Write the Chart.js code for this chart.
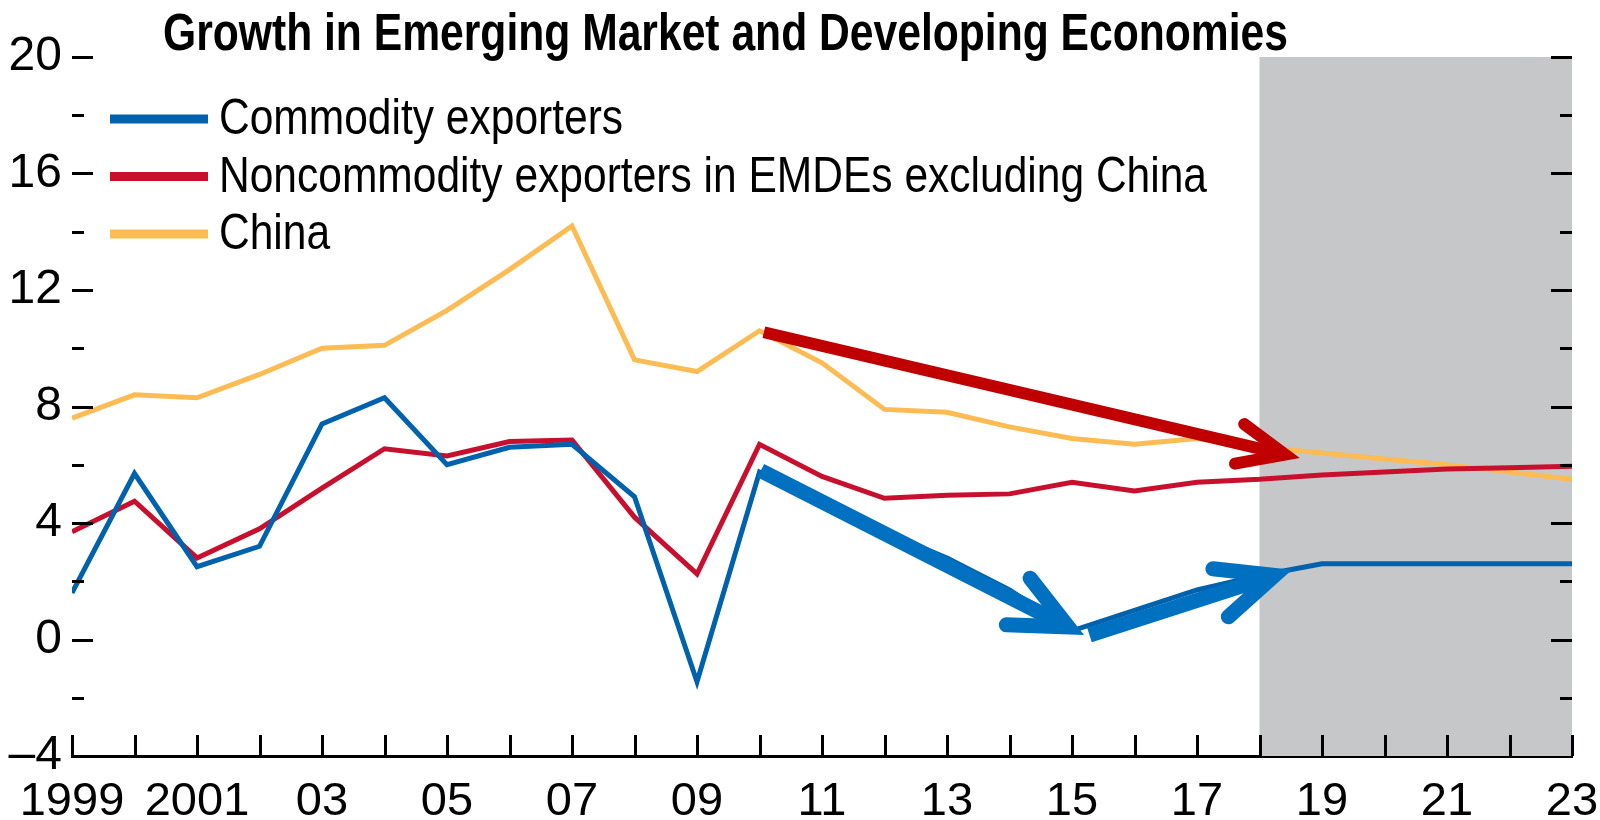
<!DOCTYPE html>
<html lang="en">
<head>
<meta charset="UTF-8">
<title>Growth in Emerging Market and Developing Economies</title>
<script src="https://cdn.jsdelivr.net/npm/chart.js"></script>
<style>
  html, body { margin: 0; padding: 0; background: #fff; }
  canvas { display: block; }
</style>
</head>
<body>
<canvas id="myChart" width="1600" height="820"></canvas>
<script>
// ---- data ----
const chartTitle = 'Growth in Emerging Market and Developing Economies';
const years = [1999, 2000, 2001, 2002, 2003, 2004, 2005, 2006, 2007, 2008, 2009, 2010, 2011,
               2012, 2013, 2014, 2015, 2016, 2017, 2018, 2019, 2020, 2021, 2022, 2023];
const seriesNames = ['Commodity exporters', 'Noncommodity exporters in EMDEs excluding China', 'China'];
const commodity    = [1.6, 5.7, 2.5, 3.2, 7.4, 8.3, 6.0, 6.6, 6.7, 4.9, -1.45, 5.75, 4.6,
                      3.7, 2.8, 1.7, 0.3, 1.0, 1.7, 2.2, 2.6, 2.6, 2.6, 2.6, 2.6];
const noncommodity = [3.7, 4.75, 2.8, 3.8, 5.2, 6.55, 6.3, 6.8, 6.85, 4.2, 2.25, 6.7, 5.6,
                      4.85, 4.95, 5.0, 5.4, 5.1, 5.4, 5.5, 5.65, 5.75, 5.85, 5.9, 5.95];
const china        = [7.6, 8.4, 8.3, 9.1, 10.0, 10.1, 11.3, 12.7, 14.2, 9.6, 9.2, 10.6, 9.5,
                      7.9, 7.8, 7.3, 6.9, 6.7, 6.9, 6.6, 6.4, 6.2, 6.0, 5.75, 5.5];
const forecastFrom = 2018;
// hand-drawn annotation arrows, [year, value]
const arrowFrom = [[2010.07, 10.55], [2010.02, 5.8],  [2015.28, 0.15]];
const arrowTo   = [[2018.41, 6.35],  [2014.94, 0.43], [2018.24, 2.2]];

const FONT = '"Liberation Sans Narrow", "Arial Narrow", "Liberation Sans", Arial, sans-serif';
Chart.defaults.font.family = FONT;
Chart.defaults.color = '#000';

const arrowStyle = [
  {color: '#c00000', width: 12, head: 51, angle: 23.5},
  {color: '#0070c0', width: 15, head: 62, angle: 25},
  {color: '#0070c0', width: 15, head: 62, angle: 24}
];

function drawArrow(ctx, x0, y0, x1, y1, s) {
  const ang = Math.atan2(y1 - y0, x1 - x0);
  const a = s.angle * Math.PI / 180;
  ctx.strokeStyle = s.color;
  ctx.lineWidth = s.width;
  ctx.lineCap = 'butt';
  ctx.beginPath();
  ctx.moveTo(x0, y0);
  ctx.lineTo(x1, y1);
  ctx.stroke();
  ctx.lineCap = 'round';
  ctx.lineJoin = 'miter';
  ctx.beginPath();
  ctx.moveTo(x1 - s.head * Math.cos(ang - a), y1 - s.head * Math.sin(ang - a));
  ctx.lineTo(x1, y1);
  ctx.lineTo(x1 - s.head * Math.cos(ang + a), y1 - s.head * Math.sin(ang + a));
  ctx.stroke();
}

const decor = {
  id: 'decor',
  beforeDatasetsDraw(chart) {
    const {ctx, chartArea: a, scales: {x}} = chart;
    const x0 = x.getPixelForValue(forecastFrom);
    ctx.save();
    ctx.fillStyle = '#c6c7c9';
    ctx.fillRect(x0, a.top, a.right - x0, a.bottom - a.top);
    ctx.restore();
  },
  afterDatasetsDraw(chart) {
    const {ctx, chartArea: a, scales: {x, y}} = chart;
    ctx.save();
    // ticks point inwards
    ctx.strokeStyle = '#000';
    ctx.lineWidth = 3;
    ctx.beginPath();
    for (let v = y.min + 2; v <= y.max; v += 2) {
      const py = Math.round(y.getPixelForValue(v)) + 0.5;
      const len = v % 4 === 0 ? 21 : 12;
      ctx.moveTo(a.left, py); ctx.lineTo(a.left + len, py);
      ctx.moveTo(a.right - len, py); ctx.lineTo(a.right, py);
    }
    years.forEach(yr => {
      const px = Math.round(x.getPixelForValue(yr)) + 0.5;
      ctx.moveTo(px, a.bottom); ctx.lineTo(px, a.bottom - 21);
    });
    ctx.stroke();

    arrowFrom.forEach((p0, i) => {
      const p1 = arrowTo[i];
      drawArrow(ctx,
        x.getPixelForValue(p0[0]), y.getPixelForValue(p0[1]),
        x.getPixelForValue(p1[0]), y.getPixelForValue(p1[1]), arrowStyle[i]);
    });
    ctx.restore();
  },
  afterDraw(chart) {
    const ctx = chart.ctx;
    ctx.save();
    ctx.fillStyle = '#000';
    ctx.textBaseline = 'alphabetic';
    ctx.textAlign = 'left';

    // title, squeezed to the width it has in the original
    ctx.font = 'bold 51px ' + FONT;
    const tw = ctx.measureText(chartTitle).width;
    ctx.save();
    ctx.translate(163, 50);
    ctx.scale(1125 / tw, 1);
    ctx.fillText(chartTitle, 0, 0);
    ctx.restore();

    // legend in the top-left corner of the plot
    ctx.font = '50px ' + FONT;
    const sx = 988 / ctx.measureText(seriesNames[1]).width;
    chart.data.datasets.forEach((ds, i) => {
      const ry = 119 + i * 57.5;
      ctx.strokeStyle = ds.borderColor;
      ctx.lineWidth = 9;
      ctx.lineCap = 'butt';
      ctx.beginPath();
      ctx.moveTo(110, ry);
      ctx.lineTo(208, ry);
      ctx.stroke();
      ctx.save();
      ctx.translate(219, ry + 15);
      ctx.scale(sx, 1);
      ctx.fillText(ds.label, 0, 0);
      ctx.restore();
    });
    ctx.restore();
  }
};

const pts = vals => years.map((yr, i) => ({x: yr, y: vals[i]}));

const ctx = document.getElementById('myChart').getContext('2d');
const chart = new Chart(ctx, {
  type: 'line',
  data: {
    datasets: [{
      label: seriesNames[0],
      data: pts(commodity),
      borderColor: '#0062ac'
    }, {
      label: seriesNames[1],
      data: pts(noncommodity),
      borderColor: '#c8102e'
    }, {
      label: seriesNames[2],
      data: pts(china),
      borderColor: '#fdbb53'
    }]
  },
  options: {
    responsive: false,
    animation: false,
    devicePixelRatio: 1,
    layout: { padding: { top: 57, right: 28, left: 0, bottom: 0 } },
    elements: {
      line: { borderWidth: 5, tension: 0, borderJoinStyle: 'miter' },
      point: { radius: 0, hoverRadius: 0 }
    },
    scales: {
      x: {
        type: 'linear',
        min: 1999,
        max: 2023,
        afterFit: s => { s.height = 64; s.paddingLeft = 0; s.paddingRight = 0; },
        grid: { display: false, drawTicks: false },
        border: { display: true, color: '#000', width: 3 },
        ticks: {
          stepSize: 1,
          maxTicksLimit: 40,
          autoSkip: false,
          maxRotation: 0,
          padding: 18,
          font: { size: 47 },
          callback: v => v % 2 === 1 ? (v < 2002 ? String(v) : String(v).slice(2)) : ''
        }
      },
      y: {
        min: -4,
        max: 20,
        afterFit: s => { s.width = 72; s.paddingTop = 0; s.paddingBottom = 0; },
        grid: { display: false, drawTicks: false },
        border: { display: false },
        ticks: {
          stepSize: 4,
          padding: 10,
          font: { size: 48 },
          callback: v => v < 0 ? '\u2013' + Math.abs(v) : String(v)
        }
      }
    },
    plugins: {
      legend: { display: false },
      title: { display: false },
      tooltip: { enabled: false }
    }
  },
  plugins: [decor]
});
</script>
</body>
</html>
